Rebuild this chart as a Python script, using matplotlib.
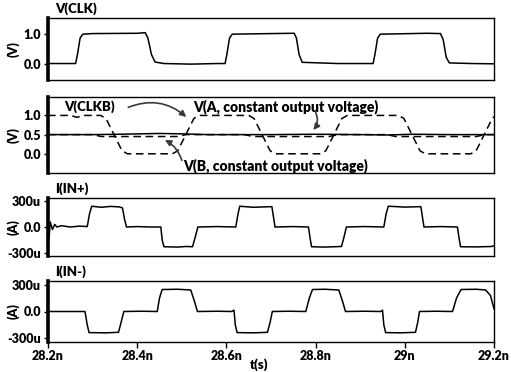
import matplotlib
matplotlib.use("Agg")
import matplotlib.pyplot as plt

plt.rcParams['font.family'] = ['Lato', 'DejaVu Sans']
FW = 'heavy'

# ---------------- data (time in ns) ----------------
t_clk = [28.20, 28.262, 28.266, 28.272, 28.278, 28.30, 28.40, 28.418, 28.424, 28.432, 28.440, 28.46,
         28.52, 28.58, 28.597, 28.601, 28.607, 28.613, 28.70, 28.752, 28.757, 28.763, 28.770, 28.85,
         28.929, 28.933, 28.939, 28.945, 29.05, 29.080, 29.086, 29.093, 29.100, 29.15, 29.20]
v_clk = [0.0, 0.0, 0.3, 0.85, 0.98, 1.0, 1.01, 1.03, 0.85, 0.3, 0.05, 0.0,
         -0.02, 0.0, 0.0, 0.3, 0.85, 0.98, 1.0, 1.01, 0.85, 0.3, 0.04, 0.0,
         0.0, 0.3, 0.85, 0.98, 1.01, 1.0, 0.8, 0.2, 0.02, 0.0, -0.01]

t_clkb = [28.20, 28.25, 28.265, 28.28, 28.318, 28.330, 28.348, 28.366, 28.378, 28.40,
          28.479, 28.491, 28.509, 28.527, 28.539, 28.60, 28.650, 28.662, 28.680, 28.698, 28.710,
          28.78, 28.811, 28.823, 28.841, 28.859, 28.871, 28.95, 28.986, 28.998, 29.016, 29.034,
          29.046, 29.10, 29.148, 29.160, 29.178, 29.196, 29.20]
v_clkb = [1.0, 1.0, 0.95, 1.0, 1.0, 0.92, 0.5, 0.08, 0.0, 0.0,
          0.0, 0.08, 0.5, 0.92, 1.0, 1.0, 1.0, 0.92, 0.5, 0.08, 0.0,
          0.0, 0.0, 0.08, 0.5, 0.92, 1.0, 1.0, 1.0, 0.92, 0.5, 0.08,
          0.0, 0.0, 0.0, 0.08, 0.5, 0.92, 0.97]

t_va = [28.20, 28.30, 28.36, 28.45, 28.50, 28.56, 28.70, 28.80, 28.90, 28.96, 29.02, 29.10, 29.20]
v_va = [0.50, 0.50, 0.51, 0.53, 0.52, 0.50, 0.50, 0.51, 0.50, 0.49, 0.51, 0.50, 0.50]

t_vb = [28.20, 28.30, 28.32, 28.49, 28.51, 28.64, 28.66, 28.83, 28.85, 28.96, 28.98, 29.16, 29.18, 29.20]
v_vb = [0.50, 0.50, 0.45, 0.45, 0.50, 0.50, 0.45, 0.45, 0.50, 0.50, 0.45, 0.45, 0.50, 0.50]

t_ip = [28.200, 28.202, 28.205, 28.210, 28.215, 28.220, 28.230, 28.250, 28.270, 28.288, 28.293, 28.298,
        28.32, 28.34, 28.36, 28.367, 28.372, 28.376, 28.40, 28.43, 28.453, 28.456, 28.460,
        28.49, 28.51, 28.524, 28.530, 28.536, 28.58, 28.621, 28.626, 28.630,
        28.66, 28.702, 28.706, 28.709, 28.75, 28.784, 28.788, 28.791,
        28.82, 28.858, 28.864, 28.869, 28.91, 28.953, 28.958, 28.963,
        29.00, 29.036, 29.040, 29.043, 29.08, 29.118, 29.122, 29.125, 29.16, 29.195, 29.20]
i_ip = [0, -150, 60, -30, 30, 0, 15, 0, 10, 5, 150, 240,
        228, 238, 232, 220, 80, 0, 5, 0, 0, -150, -228,
        -232, -225, -228, -120, 0, 5, 0, 150, 240,
        228, 235, 100, 0, 5, 0, -140, -228,
        -232, -225, -110, 0, 5, 0, 150, 240,
        230, 235, 100, 0, 5, 0, -140, -228, -230, -225, -215]

t_im = [28.200, 28.283, 28.288, 28.292, 28.33, 28.358, 28.364, 28.370, 28.41, 28.445, 28.450, 28.456,
        28.49, 28.520, 28.528, 28.535, 28.58, 28.612, 28.617, 28.620, 28.624, 28.66, 28.692, 28.698,
        28.703, 28.74, 28.778, 28.786, 28.793, 28.82, 28.852, 28.860, 28.867, 28.91, 28.946, 28.950,
        28.953, 28.957, 28.99, 29.024, 29.029, 29.033, 29.07, 29.107, 29.116, 29.126, 29.16, 29.181,
        29.192, 29.20]
i_im = [0, 0, -150, -235, -238, -232, -120, 0, 3, 0, 150, 245,
        248, 240, 120, 0, 3, 0, 15, -150, -235, -238, -232, -120,
        0, 3, 0, 150, 245, 248, 240, 120, 0, 3, 0, 15,
        -150, -235, -238, -232, -120, 0, 3, 0, 150, 245, 248, 240,
        180, 30]

xticks = [28.2, 28.4, 28.6, 28.8, 29.0, 29.2]
xtick_labels = ['28.2n', '28.4n', '28.6n', '28.8n', '29n', '29.2n']

# ---------------- figure ----------------
W, H = 511, 372
fig = plt.figure(figsize=(W / 100, H / 100), dpi=100)

def frac(top, bottom):
    return [48 / W, 1 - bottom / H, 446 / W, (bottom - top) / H]

axes = [fig.add_axes(frac(18, 80)), fig.add_axes(frac(97, 173)),
        fig.add_axes(frac(198, 256)), fig.add_axes(frac(281, 342))]

lw = 1.1
dash = (0, (5, 3))
axes[0].plot(t_clk, v_clk, color='black', lw=lw)
axes[1].plot(t_va, v_va, color='black', lw=lw)
axes[1].plot(t_vb, v_vb, color='black', lw=lw, linestyle=dash)
axes[1].plot(t_clkb, v_clkb, color='black', lw=lw, linestyle=dash)
axes[2].plot(t_ip, i_ip, color='black', lw=lw)
axes[3].plot(t_im, i_im, color='black', lw=lw)

ylims = [(-0.55, 1.52), (-0.5, 1.48), (-335, 335), (-340, 340)]
yticks = [[0.0, 1.0], [0.0, 0.5, 1.0], [-300, 0, 300], [-300, 0, 300]]
yticklabels = [['0.0', '1.0'], ['0.0', '0.5', '1.0'], ['-300u', '0.0', '300u'], ['-300u', '0.0', '300u']]

for ax, yl, yt, ytl in zip(axes, ylims, yticks, yticklabels):
    ax.set_xlim(28.2, 29.2)
    ax.set_ylim(*yl)
    ax.set_yticks(yt)
    ax.set_yticklabels(ytl, fontsize=9, fontweight=FW)
    ax.tick_params(axis='y', direction='out', length=3, width=1, pad=2)
    for s in ['top', 'right', 'bottom']:
        ax.spines[s].set_linewidth(1.0)
    ax.spines['left'].set_linewidth(2.6)
    ax.set_facecolor('white')

for ax in axes[:3]:
    ax.set_xticks([])
axes[3].set_xticks(xticks)
axes[3].set_xticklabels(xtick_labels, fontsize=9, fontweight=FW)
axes[3].tick_params(axis='x', direction='out', length=4, width=1, pad=2)

# titles
fig.text(55 / W, 1 - 9 / H, 'V(CLK)', fontsize=9.5, fontweight=FW, va='center', ha='left')
fig.text(55 / W, 1 - 189 / H, 'I(IN+)', fontsize=9.5, fontweight=FW, va='center', ha='left')
fig.text(55 / W, 1 - 272 / H, 'I(IN-)', fontsize=9.5, fontweight=FW, va='center', ha='left')

# y labels
for yc, lab in [(49, '(V)'), (135, '(V)'), (227, '(A)'), (311, '(A)')]:
    fig.text(13 / W, 1 - yc / H, lab, fontsize=9, fontweight=FW, rotation=90,
             va='center', ha='center')

fig.text(259 / W, 1 - 365 / H, 't(s)', fontsize=9.5, fontweight=FW, va='center', ha='center')

# annotations in panel 2
ax = axes[1]
ax.text(28.236, 1.23, 'V(CLKB)', fontsize=9.5, fontweight=FW, va='center', ha='left')
ax.text(28.525, 1.23, 'V(A, constant output voltage)', fontsize=10, fontweight=FW,
        va='center', ha='left')
ax.text(28.503, -0.31, 'V(B, constant output voltage)', fontsize=10, fontweight=FW,
        va='center', ha='left')
acol = '#3a3a3a'
ax.annotate('', xy=(28.510, 0.96), xytext=(28.380, 1.21),
            arrowprops=dict(arrowstyle='-|>', color=acol, lw=1.2, mutation_scale=9,
                            connectionstyle='arc3,rad=-0.3', shrinkA=0, shrinkB=0))
ax.annotate('', xy=(28.795, 0.62), xytext=(28.800, 1.08),
            arrowprops=dict(arrowstyle='-|>', color=acol, lw=1.2, mutation_scale=9,
                            connectionstyle='arc3,rad=-0.3', shrinkA=0, shrinkB=0))
ax.annotate('', xy=(28.462, 0.36), xytext=(28.500, -0.17),
            arrowprops=dict(arrowstyle='-|>', color=acol, lw=1.2, mutation_scale=9,
                            connectionstyle='arc3,rad=0.2', shrinkA=0, shrinkB=0))

fig.savefig('out.png', dpi=100, facecolor='white')
